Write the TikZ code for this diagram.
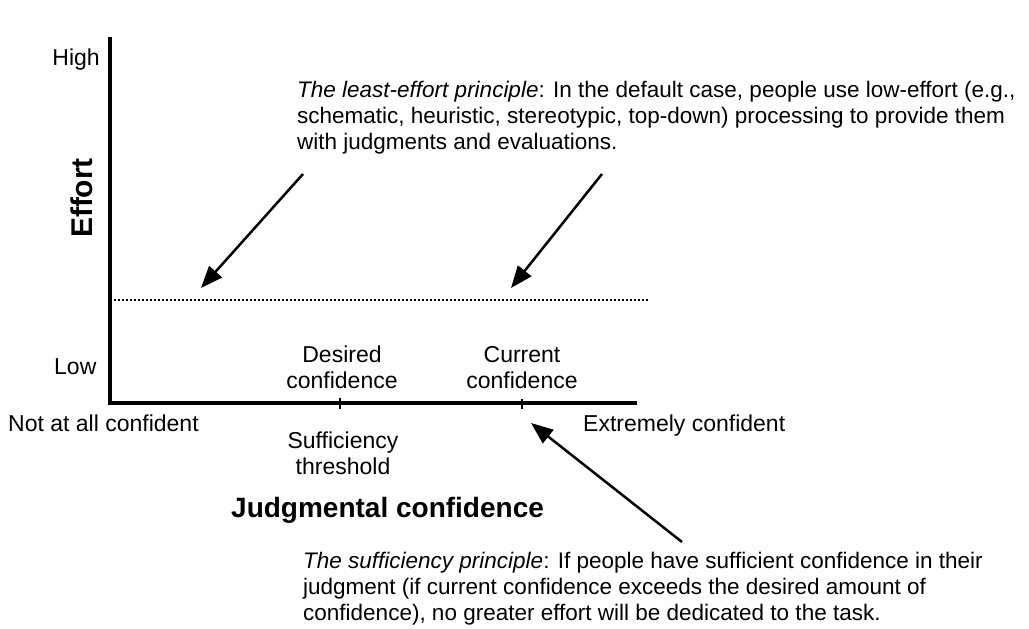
\documentclass[tikz,border=0pt]{standalone}
\usepackage{fontspec}
\setmainfont{Liberation Sans}
\usetikzlibrary{arrows.meta}
\begin{document}
\begin{tikzpicture}[x=1pt,y=-1pt,
  lbl/.style={inner sep=0pt,font=\fontsize{23}{26}\selectfont},
  para/.style={inner sep=0pt,font=\fontsize{22.5}{26}\selectfont,align=left,anchor=north west},
  twoline/.style={lbl,align=center,anchor=north},
  axislabel/.style={inner sep=0pt,font=\bfseries\fontsize{28}{32}\selectfont},
  axisline/.style={line width=4pt,line cap=butt,line join=miter},
  pointer/.style={line width=2.5pt,-{Triangle[length=22pt,width=17pt]}},
  threshold/.style={line width=2.6pt,dash pattern=on 2pt off 2pt},
  tickmark/.style={line width=1.4pt}]
\useasboundingbox (0,0) rectangle (1029,629);
% axes
\coordinate (ytop) at (110,37);
\coordinate (origin) at (110,403);
\coordinate (xend) at (637,403);
\draw[axisline] (ytop) -- (origin) -- (xend);
% ticks
\coordinate (t1a) at (340,398);
\coordinate (t1b) at (340,409);
\coordinate (t2a) at (522,399);
\coordinate (t2b) at (522,409);
\draw[tickmark] (t1a) -- (t1b);
\draw[tickmark] (t2a) -- (t2b);
% dotted threshold
\coordinate (dl) at (114,300);
\coordinate (dr) at (649,300);
\draw[threshold] (dl) -- (dr);
% labels
\node[lbl,anchor=base east] (high) at (100,65) {High};
\node[lbl,anchor=base west] (low) at (54,374) {Low};
\node[axislabel,font=\bfseries\fontsize{30}{34}\selectfont,rotate=90] (effort) at (82,198) {Effort};
\node[lbl,anchor=base west] (notat) at (8,431) {Not at all confident};
\node[lbl,anchor=base west] (extreme) at (583,431) {Extremely confident};
\node[twoline] (suff) at (343,432) {Sufficiency\\threshold};
\node[axislabel,anchor=base west] (judg) at (231,517) {Judgmental confidence};
\node[twoline] (desired) at (342,346) {Desired\\confidence};
\node[twoline] (current) at (522,346) {Current\\confidence};
\node[para] (least) at (297,81) {\textit{The least-effort principle}: In the default case, people use low-effort (e.g.,\\schematic, heuristic, stereotypic, top-down) processing to provide them\\with judgments and evaluations.};
\node[para] (suffp) at (303,552) {\textit{The sufficiency principle}: If people have sufficient confidence in their\\judgment (if current confidence exceeds the desired amount of\\confidence), no greater effort will be dedicated to the task.};
% arrows
\coordinate (a1s) at (303,174);
\coordinate (a1e) at (201,288);
\coordinate (a2s) at (602,174);
\coordinate (a2e) at (511,288);
\coordinate (a3s) at (682,542);
\coordinate (a3e) at (531,423);
\draw[pointer] (a1s) -- (a1e);
\draw[pointer] (a2s) -- (a2e);
\draw[pointer] (a3s) -- (a3e);
\end{tikzpicture}
\end{document}
